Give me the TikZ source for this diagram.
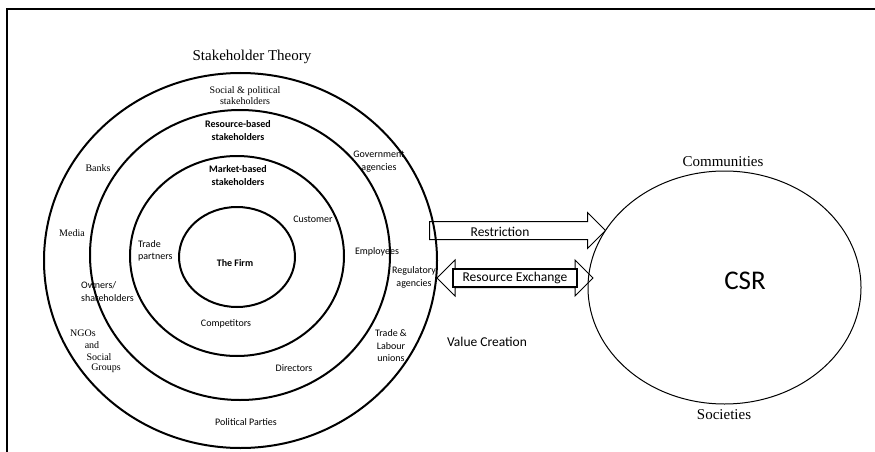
\documentclass[tikz,border=0pt]{standalone}
\usepackage{fontspec}
\setmainfont{Liberation Serif}
\newfontfamily\calfont{Carlito}
\usetikzlibrary{shapes.geometric,shapes.arrows}
\begin{document}
\begin{tikzpicture}[x=1pt,y=-1pt,
  ring/.style={draw, ellipse, line width=2pt, inner sep=0pt},
  lblserif/.style={font=\fontsize{10}{11.5}\selectfont, align=center, inner sep=0pt},
  lblsans/.style={font=\calfont\fontsize{10}{12.5}\selectfont, align=center, inner sep=0pt},
  lblbold/.style={font=\calfont\bfseries\fontsize{10}{13}\selectfont, align=center, inner sep=0pt},
  titlefont/.style={font=\fontsize{15}{18}\selectfont, inner sep=0pt},
  arrowtext/.style={font=\calfont\fontsize{13.5}{16}\selectfont, inner sep=0pt},
  blockarrow/.style={draw, line width=1pt, inner xsep=0pt}]
\useasboundingbox (0,0) rectangle (875,452);
% frame
\coordinate (ftr) at (875,9.5);
\coordinate (ftl) at (6.5,9.5);
\coordinate (fbl) at (6.5,452);
\draw[line width=2pt] (ftr) -- (ftl) -- (fbl);

% block arrows
\node[blockarrow, single arrow, minimum height=176pt, minimum width=35pt,
      single arrow head extend=9pt, inner ysep=8.5pt] (restr) at (513,230.5) {};
\node[blockarrow, double arrow, minimum height=156pt, minimum width=35pt,
      double arrow head extend=8.5pt, inner ysep=9pt] (rex) at (515,278) {};
\node[draw, line width=1.6pt, minimum width=124pt, minimum height=18pt, inner sep=0pt,
      arrowtext] (rexbox) at (515,278) {Resource Exchange};
\node[arrowtext] (restrlbl) at (500,232) {Restriction};
\node[arrowtext] (value) at (487,342) {Value Creation};

% stakeholder rings
\node[ring, minimum width=393pt, minimum height=375pt] (outer) at (240.5,260.5) {};
\node[ring, minimum width=300pt, minimum height=290pt] (resring) at (240,255) {};
\node[ring, minimum width=214pt, minimum height=200pt] (mktring) at (237,256) {};
\node[ring, minimum width=116pt, minimum height=100pt] (firm) at (237,257) {};

% CSR ellipse
\node[draw, ellipse, line width=1pt, inner sep=0pt, minimum width=273pt, minimum height=233pt] (csr) at (724.5,287.5) {};
\node[font=\calfont\fontsize{27}{30}\selectfont, inner sep=0pt] (csrlbl) at (745,281) {CSR};
\node[titlefont] (comm) at (723,162) {Communities};
\node[titlefont] (soc) at (724,415) {Societies};

% titles and labels
\node[titlefont] (title) at (252,57) {Stakeholder Theory};
\node[lblserif] (socpol) at (245,95.5) {Social \& political\\stakeholders};
\node[lblbold] (resb) at (238,130.5) {Resource-based\\stakeholders};
\node[lblbold] (mktb) at (238,175.5) {Market-based\\stakeholders};
\node[lblbold] (firmlbl) at (235,263) {The Firm};
\node[lblserif] (banks) at (98,168) {Banks};
\node[lblserif] (media) at (72,233) {Media};
\node[lblsans] (gov) at (379,161.5) {Government\\agencies};
\node[lblsans] (cust) at (313,219) {Customer};
\node[lblsans, align=left, anchor=west] (trade) at (138,251) {Trade\\partners};
\node[lblsans] (empl) at (377,252) {Employees};
\node[lblsans] (reg) at (414,277.5) {Regulatory\\agencies};
\node[lblsans, align=left, anchor=west] (own) at (81,291.5) {Owners/\\shareholders};
\node[lblsans] (comp) at (226,324) {Competitors};
\node[lblserif] (ngo1) at (83,333) {NGOs};
\node[lblserif] (ngo2) at (92,345) {and};
\node[lblserif] (ngo3) at (99,357) {Social};
\node[lblserif] (ngo4) at (106,368) {Groups};
\node[lblsans] (union) at (391,346) {Trade \&\\Labour\\unions};
\node[lblsans] (dir) at (294,368) {Directors};
\node[lblsans] (pol) at (246,422) {Political Parties};
\end{tikzpicture}
\end{document}
